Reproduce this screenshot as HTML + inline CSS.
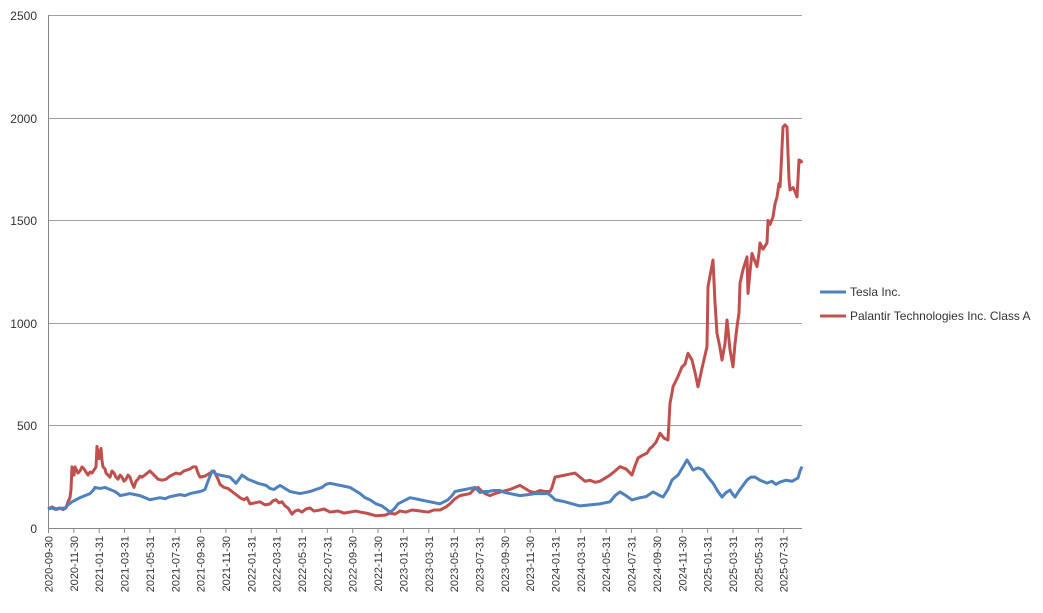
<!DOCTYPE html>
<html><head><meta charset="utf-8"><style>
body{margin:0;background:#fff;}
svg text{font-family:"Liberation Sans",sans-serif;fill:#333;}
</style></head><body>
<svg width="1043" height="608" xmlns="http://www.w3.org/2000/svg">
<g stroke="#a0a0a0" stroke-width="1">
<line x1="48" y1="15.5" x2="802" y2="15.5"/>
<line x1="48" y1="118.5" x2="802" y2="118.5"/>
<line x1="48" y1="220.5" x2="802" y2="220.5"/>
<line x1="48" y1="323.5" x2="802" y2="323.5"/>
<line x1="48" y1="425.5" x2="802" y2="425.5"/>
<line x1="48" y1="528.5" x2="802" y2="528.5" stroke="#888"/>
<line x1="48.5" y1="15" x2="48.5" y2="533" stroke="#888"/>
</g>
<g font-size="12" text-anchor="end">
<text x="37" y="20">2500</text><text x="37" y="123">2000</text><text x="37" y="225">1500</text>
<text x="37" y="328">1000</text><text x="37" y="430">500</text><text x="37" y="533">0</text>
</g>
<path stroke="#888" d="M48.5 528v5M73.85 528v5M99.2 528v5M124.55 528v5M149.9 528v5M175.25 528v5M200.6 528v5M225.95 528v5M251.3 528v5M276.65 528v5M302 528v5M327.35 528v5M352.7 528v5M378.05 528v5M403.4 528v5M428.75 528v5M454.1 528v5M479.45 528v5M504.8 528v5M530.15 528v5M555.5 528v5M580.85 528v5M606.2 528v5M631.55 528v5M656.9 528v5M682.25 528v5M707.6 528v5M733 528v5M758.3 528v5M783.65 528v5"/>
<g font-size="11" text-anchor="end">
<text transform="translate(52.5,536) rotate(-90)">2020-09-30</text>
<text transform="translate(77.85,536) rotate(-90)">2020-11-30</text>
<text transform="translate(103.2,536) rotate(-90)">2021-01-31</text>
<text transform="translate(128.55,536) rotate(-90)">2021-03-31</text>
<text transform="translate(153.9,536) rotate(-90)">2021-05-31</text>
<text transform="translate(179.25,536) rotate(-90)">2021-07-31</text>
<text transform="translate(204.6,536) rotate(-90)">2021-09-30</text>
<text transform="translate(229.95,536) rotate(-90)">2021-11-30</text>
<text transform="translate(255.3,536) rotate(-90)">2022-01-31</text>
<text transform="translate(280.65,536) rotate(-90)">2022-03-31</text>
<text transform="translate(306,536) rotate(-90)">2022-05-31</text>
<text transform="translate(331.35,536) rotate(-90)">2022-07-31</text>
<text transform="translate(356.7,536) rotate(-90)">2022-09-30</text>
<text transform="translate(382.05,536) rotate(-90)">2022-11-30</text>
<text transform="translate(407.4,536) rotate(-90)">2023-01-31</text>
<text transform="translate(432.75,536) rotate(-90)">2023-03-31</text>
<text transform="translate(458.1,536) rotate(-90)">2023-05-31</text>
<text transform="translate(483.45,536) rotate(-90)">2023-07-31</text>
<text transform="translate(508.8,536) rotate(-90)">2023-09-30</text>
<text transform="translate(534.15,536) rotate(-90)">2023-11-30</text>
<text transform="translate(559.5,536) rotate(-90)">2024-01-31</text>
<text transform="translate(584.85,536) rotate(-90)">2024-03-31</text>
<text transform="translate(610.2,536) rotate(-90)">2024-05-31</text>
<text transform="translate(635.55,536) rotate(-90)">2024-07-31</text>
<text transform="translate(660.9,536) rotate(-90)">2024-09-30</text>
<text transform="translate(686.25,536) rotate(-90)">2024-11-30</text>
<text transform="translate(711.6,536) rotate(-90)">2025-01-31</text>
<text transform="translate(737,536) rotate(-90)">2025-03-31</text>
<text transform="translate(762.3,536) rotate(-90)">2025-05-31</text>
<text transform="translate(787.65,536) rotate(-90)">2025-07-31</text>
</g>
<g transform="translate(0,528.5) scale(1,-0.2054)" fill="none" stroke-linejoin="round">
<polyline vector-effect="non-scaling-stroke" stroke="#c0504d" stroke-width="3" points="48,95 52,105 56,95 60,100 63,92 66,100 68,130 70,150 71,190 72,300 73,270 74,260 75,300 76,290 78,270 80,280 82,300 84,290 86,275 88,260 90,275 92,270 94,285 96,300 97,400 98,360 99,340 100,370 101,390 102,330 103,300 105,290 106,270 108,260 110,250 112,280 114,270 116,250 118,240 120,260 122,250 124,230 126,240 128,260 130,250 132,220 134,200 136,230 138,240 140,255 142,250 146,265 150,280 154,260 158,240 162,235 166,240 170,255 176,270 180,265 184,280 190,290 193,300 196,300 198,270 200,250 205,255 210,270 214,280 216,260 218,240 220,215 224,200 228,195 232,180 236,165 240,150 244,140 247,150 250,120 255,125 260,130 265,115 270,120 273,135 276,140 279,125 282,130 285,110 288,100 290,85 292,70 295,85 298,90 302,80 306,95 310,100 314,85 320,90 324,95 330,80 338,85 344,75 350,80 356,85 360,80 366,75 370,70 376,62 385,65 390,75 395,70 400,85 406,80 412,90 420,85 428,80 434,90 440,90 446,105 450,120 455,145 460,160 465,165 470,170 474,190 478,200 481,185 485,170 490,160 495,170 502,180 510,190 515,200 520,210 525,195 530,180 535,175 540,185 545,180 550,180 552,200 555,250 560,255 565,260 570,265 575,270 580,250 585,230 590,235 595,225 600,230 605,245 610,260 615,280 620,301 626,290 632,260 635,305 638,343 642,355 647,367 650,390 652,397 656,420 660,464 664,440 668,431 669,520 670,610 672,660 673,690 678,740 682,787 685,800 688,853 692,820 695,760 698,690 702,780 707,885 708,1177 710,1230 713,1307 715,1100 717,950 720,880 722,820 725,900 727,1015 730,870 733,787 735,900 737,982 739,1050 740,1194 743,1260 747,1322 748,1145 750,1250 752,1339 755,1300 757,1275 759,1340 760,1390 763,1360 767,1390 768,1500 770,1480 773,1517 775,1580 777,1614 779,1680 780,1663 781,1750 783,1955 785,1965 787,1955 788,1828 789,1700 790,1648 793,1660 795,1640 797,1614 798,1700 799,1794 801,1790 802,1779"/>
<polyline vector-effect="non-scaling-stroke" stroke="#4f81bd" stroke-width="3" points="48,95 52,100 56,92 60,98 65,100 68,115 72,130 76,140 80,150 85,160 90,170 93,185 95,200 100,195 105,200 110,190 115,180 118,170 120,160 125,165 130,170 135,165 140,160 145,150 150,140 155,145 160,150 165,145 170,155 175,160 180,165 185,160 190,170 195,175 200,180 203,185 205,190 208,230 212,280 216,265 220,260 225,255 230,250 233,235 236,220 239,240 242,260 245,250 248,240 253,230 258,220 262,215 266,210 270,195 274,190 277,200 280,210 285,195 290,180 295,175 300,170 305,175 310,180 316,190 322,200 326,215 330,220 335,215 340,210 345,205 350,200 355,185 360,170 365,150 370,140 376,120 382,110 386,95 390,80 393,90 395,100 398,120 402,130 406,140 410,150 415,145 420,140 430,130 440,120 444,130 448,140 452,160 455,180 460,185 465,190 470,195 475,200 478,185 480,175 484,180 488,180 494,185 500,185 505,175 510,170 515,165 520,160 528,165 535,170 542,170 548,170 552,155 555,140 560,135 565,130 572,120 580,110 590,115 600,120 605,125 610,130 615,160 620,178 626,160 632,139 640,150 646,155 653,178 658,165 663,153 668,190 672,236 678,260 683,300 687,334 690,310 693,285 698,295 703,285 708,250 713,221 718,180 722,153 726,175 730,187 733,165 735,153 740,190 747,236 751,250 755,251 760,235 767,221 772,230 776,215 780,226 786,235 792,230 798,246 800,280 802,301"/>
</g>
<line x1="820" y1="292" x2="846" y2="292" stroke="#4f81bd" stroke-width="3"/>
<line x1="820" y1="316" x2="846" y2="316" stroke="#c0504d" stroke-width="3"/>
<text x="850" y="296" font-size="12">Tesla Inc.</text>
<text x="850" y="320" font-size="12">Palantir Technologies Inc. Class A</text>
</svg>
</body></html>
